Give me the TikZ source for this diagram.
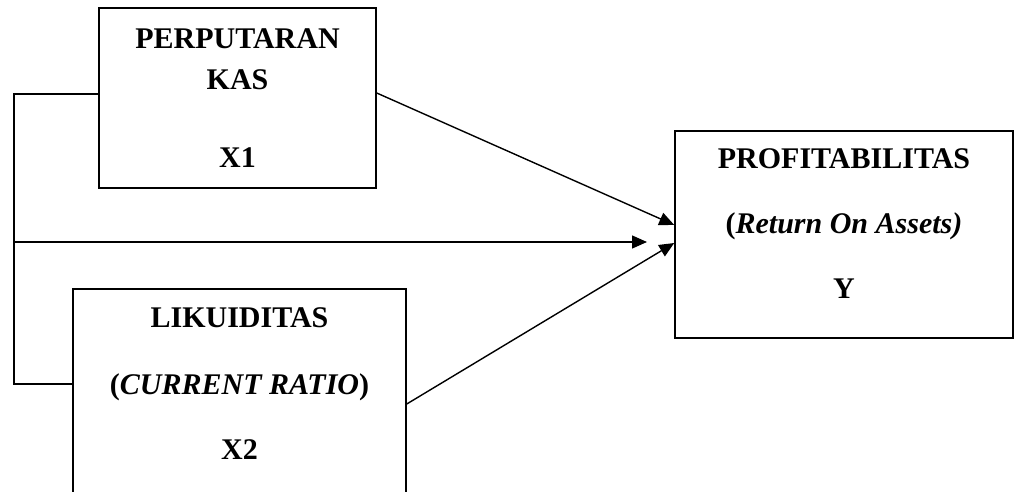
\documentclass[tikz,border=0pt]{standalone}
\usepackage{fontspec}
\setmainfont{Liberation Serif}
\usetikzlibrary{arrows.meta}
\begin{document}
\begin{tikzpicture}[x=1pt,y=-1pt,
  box/.style={draw,line width=1.5pt,inner sep=0pt,fill=none},
  txt/.style={anchor=base,inner sep=0pt,font=\fontsize{30}{36}\selectfont\bfseries},
  conn/.style={line width=1.4pt},
  arr/.style={line width=1.4pt,-{Triangle[length=15pt,width=13pt]}}]
\useasboundingbox (0,0) rectangle (1019,492);
\clip (0,0) rectangle (1019,492);
\fill[white] (0,0) rectangle (1019,492);
% boxes
\node[box,minimum width=277pt,minimum height=180pt] (k1) at (237.5,98) {};
\node[box,minimum width=333pt,minimum height=230pt] (k2) at (239.5,404) {};
\node[box,minimum width=338pt,minimum height=207pt] (k3) at (844,234.5) {};
% texts
\node[txt] (t1a) at (237.5,49) {PERPUTARAN};
\node[txt] (t1b) at (237.5,90) {KAS};
\node[txt] (t1c) at (237.5,167) {X1};
\node[txt] (t2a) at (239.5,327) {LIKUIDITAS};
\node[txt] (t2b) at (239.5,394) {(\textit{CURRENT RATIO})};
\node[txt] (t2c) at (239.5,459) {X2};
\node[txt] (t3a) at (844,168) {PROFITABILITAS};
\node[txt] (t3b) at (844,233) {(\textit{Return On Assets)}};
\node[txt] (t3c) at (844,298) {Y};
% bracket
\coordinate (bt) at (14,94);
\coordinate (bm) at (14,242);
\coordinate (bb) at (14,384);
\coordinate (tip) at (647,242);
\draw[conn] ([yshift=4pt]k1.west) -- (bt) -- (bb) -- ([yshift=20pt]k2.west);
\draw[arr] (bm) -- (tip);
\draw[arr] ([yshift=5pt]k1.east) -- ([yshift=9.5pt]k3.west);
\draw[arr] (k2.east) -- ([yshift=-8.5pt]k3.west);
\end{tikzpicture}
\end{document}
